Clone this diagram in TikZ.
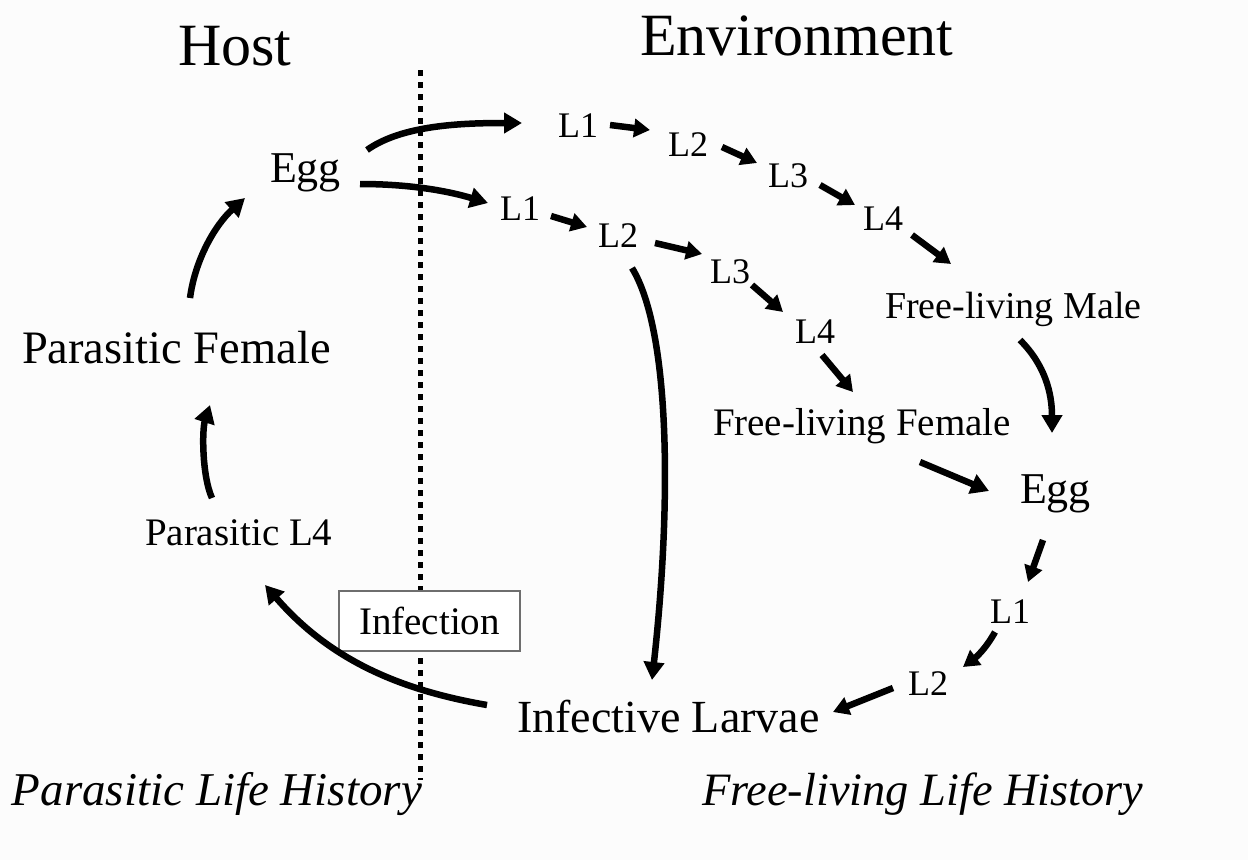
\documentclass[tikz,border=0pt]{standalone}
\usepackage{fontspec}
\setmainfont{Liberation Serif}
\usetikzlibrary{arrows.meta}
\definecolor{bg}{RGB}{252,252,252}
\definecolor{boxgray}{RGB}{110,110,110}
\tikzset{
  lbl/.style={anchor=base west, inner sep=0pt, outer sep=0pt},
  fs/.style={font=\fontsize{#1}{#1}\selectfont},
  arr/.style={line width=6.5pt, -{Triangle[length=18pt,width=20pt]}},
  sarr/.style={line width=6.5pt, -{Triangle[length=16pt,width=18pt]}},
  divider/.style={line width=5pt, dash pattern=on 6pt off 6pt},
  infbox/.style={draw=boxgray, line width=1.5pt, minimum width=181pt, minimum height=60pt, inner sep=0pt, fill=white}
}
\begin{document}
\begin{tikzpicture}[x=1pt,y=-1pt]
\fill[bg] (0,0) rectangle (1248,860);
\useasboundingbox (0,0) rectangle (1248,860);

% divider
\coordinate (dtop) at (420,70);
\coordinate (dbot) at (420,780);
\draw[divider] (dtop) -- (dbot);

% titles
\node[lbl,fs=60] (host) at (178,65) {Host};
\node[lbl,fs=60] (env) at (640,55) {Environment};

% left side
\node[lbl,fs=44] (egg1) at (270,182) {Egg};
\node[lbl,fs=46.5] (pfem) at (22,363) {Parasitic Female};
\node[lbl,fs=39] (pL4) at (145,545) {Parasitic L4};
\node[lbl,fs=46] (infl) at (517,732) {Infective Larvae};
\node[lbl,fs=47] (plh) at (12,805) {\itshape Parasitic Life History};
\node[lbl,fs=46.4] (flh) at (702,805) {\itshape Free-living Life History};

% upper chain
\node[lbl,fs=36] (uL1) at (558,137) {L1};
\node[lbl,fs=36] (uL2) at (668,156) {L2};
\node[lbl,fs=36] (uL3) at (768,187) {L3};
\node[lbl,fs=36] (uL4) at (863,230) {L4};
\node[lbl,fs=38] (fmale) at (885,318) {Free-living Male};

% lower chain
\node[lbl,fs=36] (lL1) at (500,220) {L1};
\node[lbl,fs=36] (lL2) at (598,247) {L2};
\node[lbl,fs=36] (lL3) at (710,283) {L3};
\node[lbl,fs=36] (lL4) at (795,343) {L4};
\node[lbl,fs=39] (ffem) at (713,435) {Free-living Female};

% right side
\node[lbl,fs=44] (egg2) at (1020,503) {Egg};
\node[lbl,fs=36] (rL1) at (990,623) {L1};
\node[lbl,fs=36] (rL2) at (908,695) {L2};

% infection box
\node[infbox,fs=39] (inf) at (429.5,621) {Infection};

% arrows
\draw[arr] ([shift={(97,-32)}]egg1.base west) .. controls +(35,-25) and +(-60,0) .. ([shift={(-36,-14)}]uL1.base west);
\draw[arr] ([shift={(90,2)}]egg1.base west) .. controls +(50,0) and +(-40,-12) .. ([shift={(-12,-17)}]lL1.base west);

\draw[sarr] ([shift={(52,-12)}]uL1.base west) -- ([shift={(-18,-26)}]uL2.base west);
\draw[sarr] ([shift={(54,-9)}]uL2.base west) -- ([shift={(-11,-24)}]uL3.base west);
\draw[sarr] ([shift={(52,-2)}]uL3.base west) -- ([shift={(-8,-25)}]uL4.base west);
\draw[sarr] ([shift={(49,5)}]uL4.base west) -- ([shift={(66,-54)}]fmale.base west);

\draw[sarr] ([shift={(51,-4)}]lL1.base west) -- ([shift={(-11,-20)}]lL2.base west);
\draw[sarr] ([shift={(57,-4)}]lL2.base west) -- ([shift={(-8,-29)}]lL3.base west);
\draw[sarr] ([shift={(42,2)}]lL3.base west) -- ([shift={(-12,-31)}]lL4.base west);
\draw[sarr] ([shift={(27,12)}]lL4.base west) -- ([shift={(140,-43)}]ffem.base west);

\draw[arr] ([shift={(207,27)}]ffem.base west) -- ([shift={(-31,-12)}]egg2.base west);
\draw[arr] ([shift={(135,22)}]fmale.base west) .. controls +(25,25) and +(0,-40) .. ([shift={(32,-70)}]egg2.base west);
\draw[sarr] ([shift={(23,37)}]egg2.base west) -- ([shift={(38,-41)}]rL1.base west);
\draw[sarr] ([shift={(5,9)}]rL1.base west) .. controls +(-10,18) and +(12,-9) .. ([shift={(55,-28)}]rL2.base west);
\draw[sarr] ([shift={(-15,-7)}]rL2.base west) -- ([shift={(316,-20)}]infl.base west);

\draw[arr] ([shift={(34,21)}]lL2.base west) .. controls +(38,62) and +(20,-180) .. ([shift={(135,-52)}]infl.base west);
\draw[arr] ([shift={(-30,-27)}]infl.base west) .. controls +(-87,-15) and +(65,75) .. ([shift={(120,40)}]pL4.base west);
\draw[arr] ([shift={(67,-47)}]pL4.base west) .. controls +(-10,-22) and +(-8,25) .. ([shift={(188,42)}]pfem.base west);
\draw[arr] ([shift={(168,-65)}]pfem.base west) .. controls +(5,-38) and +(-30,27) .. ([shift={(-25,16)}]egg1.base west);
\end{tikzpicture}
\end{document}
